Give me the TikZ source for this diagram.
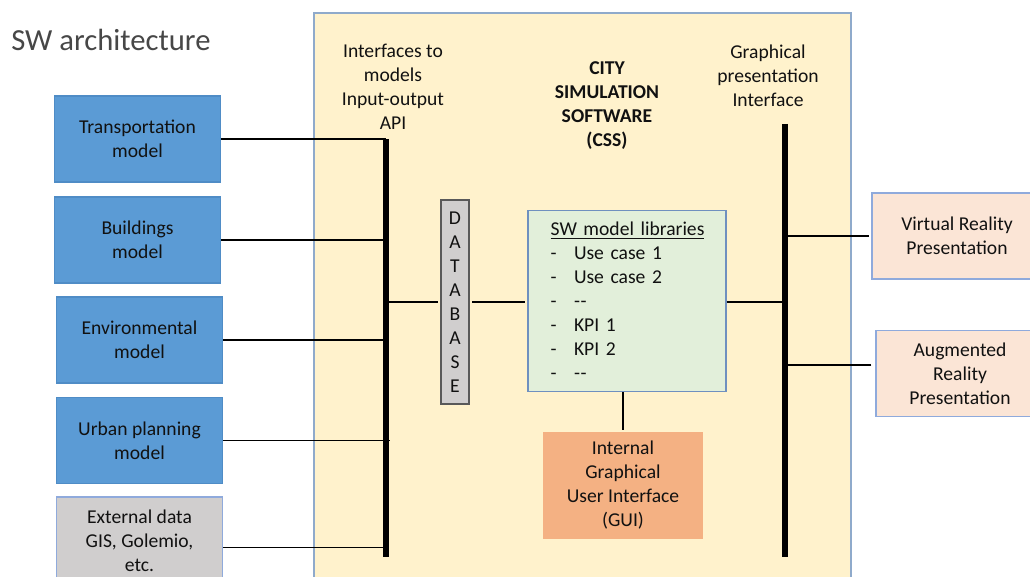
\documentclass[tikz,border=0pt]{standalone}
\usepackage{fontspec}
\setmainfont{Carlito}
\usetikzlibrary{calc}
\definecolor{cssfill}{HTML}{FFF2CC}
\definecolor{cssline}{HTML}{8FAACB}
\definecolor{bluefill}{HTML}{5B9BD5}
\definecolor{blueline}{HTML}{4F8CC6}
\definecolor{greyfill}{HTML}{D0CECE}
\definecolor{greyline}{HTML}{8FAADC}
\definecolor{dbline}{HTML}{595959}
\definecolor{greenfill}{HTML}{E2EFDA}
\definecolor{greenline}{HTML}{6F90BF}
\definecolor{guifill}{HTML}{F4B183}
\definecolor{pinkfill}{HTML}{FBE5D6}
\definecolor{txt}{HTML}{111111}
\tikzset{
  base/.style={draw, line width=0.8pt, align=center, text=txt, inner sep=0pt,
    font=\fontsize{14.7}{18}\selectfont},
  model/.style={base, fill=bluefill, draw=blueline, minimum width=125pt, minimum height=64.5pt},
  ext/.style={base, fill=greyfill, draw=greyline, minimum width=125pt, minimum height=66pt},
  pres/.style={base, fill=pinkfill, draw=greyline},
  label/.style={align=center, text=txt, inner sep=0pt, font=\fontsize{14.7}{18}\selectfont},
  bus/.style={line width=3.8pt},
  conn/.style={line width=0.9pt, draw=black}
}
\begin{document}
\begin{tikzpicture}[x=0.75pt, y=-0.75pt]
\useasboundingbox (0,0) rectangle (1030,577);
\clip (0,0) rectangle (1030,577);
% container
\node[draw=cssline, fill=cssfill, line width=0.8pt, minimum width=402.75pt, minimum height=440.25pt, inner sep=0pt] (css) at (582.5,306.5) {};
% title
\node[anchor=west, inner sep=0pt, text=black!72, font=\fontsize{23}{27}\selectfont] (title) at (11,40) {SW architecture};
% header labels
\node[label] (ifc) at (393,87) {Interfaces to\\models\\Input-output\\API};
\node[label, font=\fontsize{14.7}{18}\selectfont\bfseries] (city) at (607,106) {CITY\\SIMULATION\\SOFTWARE\\(CSS)};
\node[label] (gp) at (768,76) {Graphical\\presentation\\Interface};
% left models
\node[model] (tr) at (137.5,139) {Transportation\\model};
\node[model] (bu) at (137.5,240) {Buildings\\model};
\node[model] (en) at (139.5,340) {Environmental\\model};
\node[model] (ur) at (139.5,440.5) {Urban planning\\model};
\node[ext] (ex) at (139.5,541) {External data\\GIS, Golemio,\\etc.};
% buses
\coordinate (lbt) at (386,139);
\coordinate (lbb) at (386,557);
\coordinate (rbt) at (785,124);
\coordinate (rbb) at (785,557);
\draw[bus] (lbt) -- (lbb);
\draw[bus] (rbt) -- (rbb);
% database
\node[base, fill=greyfill, draw=dbline, minimum width=21pt, minimum height=153pt] (db) at (455,302) {D\\A\\T\\A\\B\\A\\S\\E};
% SW model libraries
\node[base, fill=greenfill, draw=greenline, minimum width=148.5pt, minimum height=135.75pt, inner xsep=17pt, text width=114.5pt, align=left] (sw) at (627,301)
 {\underline{SW model libraries}\\
  \makebox[17.5pt][l]{-}Use case 1\\
  \makebox[17.5pt][l]{-}Use case 2\\
  \makebox[17.5pt][l]{-}-\kern0.5pt-\\
  \makebox[17.5pt][l]{-}KPI 1\\
  \makebox[17.5pt][l]{-}KPI 2\\
  \makebox[17.5pt][l]{-}-\kern0.5pt-};
% GUI
\node[base, fill=guifill, draw=guifill, minimum width=118.5pt, minimum height=78.75pt] (gui) at (623,485.5) {Internal\\Graphical\\User Interface\\(GUI)};
% presentations
\node[pres, minimum width=127.5pt, minimum height=64.5pt] (vr) at (957,236) {Virtual Reality\\Presentation};
\node[pres, minimum width=126pt, minimum height=64pt] (ar) at (960,373.5) {Augmented\\Reality\\Presentation};
% connectors
\draw[conn] (tr.east) -- (tr.east -| lbt);
\draw[conn] (bu.east) -- (bu.east -| lbt);
\draw[conn] (en.east) -- (en.east -| lbt);
\draw[conn] (ur.east) -- ($(ur.east -| lbt)+(4,0)$);
\draw[conn] ([yshift=-5pt]ex.east) -- ([yshift=-5pt]ex.east -| lbt);
\draw[conn] (db.west -| lbt) -- ([xshift=-2pt]db.west);
\draw[conn] ([xshift=2pt]db.east) -- ([xshift=-2pt]db.east -| sw.west);
\draw[conn] (db.east -| sw.east) -- (db.east -| rbt);
\draw[conn] (gui.north |- sw.south) -- ([yshift=2pt]gui.north);
\draw[conn] ([xshift=-2pt]vr.west) -- (vr.west -| rbt);
\draw[conn] ([xshift=-3pt,yshift=6.4pt]ar.west) -- ([yshift=6.4pt]ar.west -| rbt);
\end{tikzpicture}
\end{document}
